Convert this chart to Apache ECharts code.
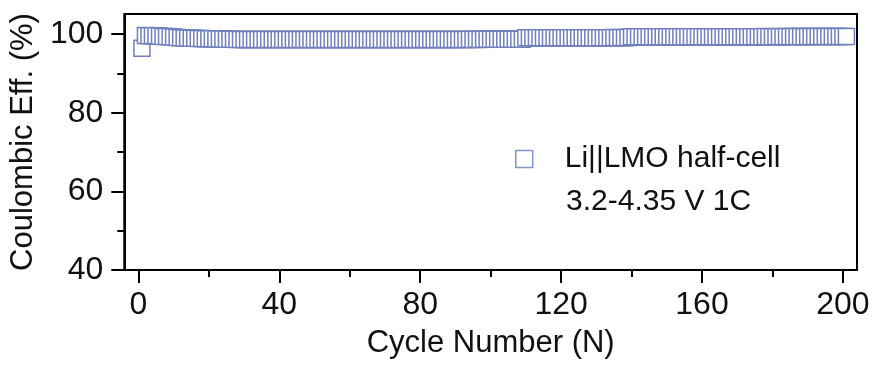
<!DOCTYPE html>
<html>
<head>
<meta charset="utf-8">
<script src="https://cdn.jsdelivr.net/npm/echarts@6/dist/echarts.min.js"></script>
<style>html,body{margin:0;padding:0;background:#fff;}#c{width:876px;height:366px;}</style>
</head>
<body>
<div id="c"></div>
<script>
// Coulombic efficiency (%) for cycles 1..202 (cycle = index + 1)
const efficiency = [
  96.4,
  99.62, 99.60, 99.58, 99.55, 99.50, 99.40, 99.35, 99.30, 99.22,
  99.12, 99.08, 99.02, 98.98, 98.95, 98.92, 98.90, 98.88, 98.82, 98.80,
  98.78, 98.76, 98.74, 98.72, 98.70, 98.68, 98.66, 98.62, 98.62, 98.60,
  98.61, 98.60, 98.59, 98.60, 98.61, 98.60, 98.59, 98.60, 98.60, 98.61,
  98.60, 98.59, 98.60, 98.61, 98.60, 98.60, 98.59, 98.60, 98.61, 98.60,
  98.60, 98.61, 98.60, 98.59, 98.60, 98.60, 98.61, 98.60, 98.59, 98.60,
  98.61, 98.60, 98.60, 98.59, 98.60, 98.61, 98.60, 98.60, 98.59, 98.60,
  98.62, 98.61, 98.60, 98.62, 98.61, 98.62, 98.60, 98.61, 98.62, 98.61,
  98.62, 98.63, 98.62, 98.61, 98.62, 98.63, 98.62, 98.63, 98.62, 98.63,
  98.64, 98.63, 98.64, 98.65, 98.64, 98.65, 98.64, 98.66, 98.65, 98.66,
  98.66, 98.67, 98.66, 98.67, 98.68, 98.67, 98.68, 98.69, 98.70, 99.05,
  99.04, 99.05, 99.06, 99.05, 99.04, 99.06, 99.05, 99.06, 99.05, 99.06,
  99.07, 99.06, 99.07, 99.06, 99.07, 99.08, 99.07, 99.08, 99.07, 99.08,
  99.08, 99.09, 99.08, 99.09, 99.10, 99.09, 99.10, 99.09, 99.10, 99.30,
  99.30, 99.31, 99.30, 99.31, 99.30, 99.31, 99.32, 99.31, 99.30, 99.31,
  99.32, 99.31, 99.32, 99.31, 99.30, 99.31, 99.32, 99.31, 99.32, 99.33,
  99.32, 99.31, 99.32, 99.33, 99.32, 99.33, 99.32, 99.33, 99.34, 99.33,
  99.32, 99.33, 99.34, 99.33, 99.34, 99.33, 99.34, 99.35, 99.34, 99.33,
  99.34, 99.35, 99.34, 99.35, 99.34, 99.35, 99.36, 99.35, 99.34, 99.35,
  99.36, 99.35, 99.36, 99.35, 99.36, 99.37, 99.36, 99.35, 99.36, 99.36,
  99.37
];
const xMajorTicks = [0, 40, 80, 120, 160, 200];
const xMinorTicks = [20, 60, 100, 140, 180];
const yMajorTicks = [40, 60, 80, 100];
const yMinorTicks = [50, 70, 90];
const seriesName = 'Li||LMO half-cell';
const noteText = '3.2-4.35 V 1C';
const xTitle = 'Cycle Number (N)';
const yTitle = 'Coulombic Eff. (%)';

const points = efficiency.map((v, i) => [i + 1, v]);
const FONT = "'Liberation Sans', Arial, sans-serif";
const markerColor = '#7080bd';

const chart = echarts.init(document.getElementById('c'), null, {renderer: 'canvas'});
const xRange = {min: -4, max: 204};
const yRange = {min: 40, max: 105.1};

chart.setOption({
  animation: false,
  backgroundColor: '#fff',
  grid: {left: 123, right: 19, top: 14, bottom: 96, show: true, borderColor: '#000', borderWidth: 2, backgroundColor: 'transparent'},
  legend: {
    left: 515, top: 144, padding: 0,
    itemWidth: 17, itemHeight: 17,
    data: [{name: seriesName, icon: 'rect'}],
    itemStyle: {color: '#fff', borderColor: '#8595cc', borderWidth: 1.5},
    textStyle: {fontFamily: FONT, fontSize: 30, color: '#111', padding: [0, 0, 0, 27]}
  },
  graphic: [{
    type: 'text', x: 566, y: 202,
    style: {text: noteText, font: "30px 'Liberation Sans', Arial, sans-serif", fill: '#111', align: 'left', verticalAlign: 'middle'}
  }],
  xAxis: [{
    type: 'value', position: 'bottom', min: xRange.min, max: xRange.max,
    axisLine: {show: true, onZero: false, lineStyle: {color: '#000', width: 2}},
    axisTick: {show: true, customValues: xMajorTicks, length: 13, lineStyle: {color: '#000', width: 2}},
    axisLabel: {customValues: xMajorTicks, fontFamily: FONT, fontSize: 32, color: '#111', margin: 19},
    splitLine: {show: false},
    name: xTitle, nameLocation: 'middle', nameGap: 58,
    nameTextStyle: {fontFamily: FONT, fontSize: 31, color: '#111'}
  }, {
    type: 'value', position: 'bottom', min: xRange.min, max: xRange.max,
    axisLine: {show: false, onZero: false},
    axisTick: {show: true, customValues: xMinorTicks, length: 7, lineStyle: {color: '#000', width: 2}},
    axisLabel: {show: false},
    splitLine: {show: false}
  }],
  yAxis: [{
    type: 'value', position: 'left', min: yRange.min, max: yRange.max,
    axisLine: {show: true, onZero: false, lineStyle: {color: '#000', width: 2}},
    axisTick: {show: true, customValues: yMajorTicks, length: 13, lineStyle: {color: '#000', width: 2}},
    axisLabel: {customValues: yMajorTicks, fontFamily: FONT, fontSize: 32, color: '#111', margin: 21},
    splitLine: {show: false},
    name: yTitle, nameLocation: 'middle', nameGap: 74,
    nameTextStyle: {fontFamily: FONT, fontSize: 31, color: '#111'}
  }, {
    type: 'value', position: 'left', min: yRange.min, max: yRange.max,
    axisLine: {show: false, onZero: false},
    axisTick: {show: true, customValues: yMinorTicks, length: 7, lineStyle: {color: '#000', width: 2}},
    axisLabel: {show: false},
    splitLine: {show: false}
  }],
  series: [{
    name: seriesName,
    type: 'scatter',
    xAxisIndex: 0, yAxisIndex: 0,
    symbol: 'rect', symbolSize: 16,
    itemStyle: {color: '#fff', borderColor: markerColor, borderWidth: 1.5, opacity: 1},
    emphasis: {disabled: true},
    data: points
  }]
});
</script>
</body>
</html>
